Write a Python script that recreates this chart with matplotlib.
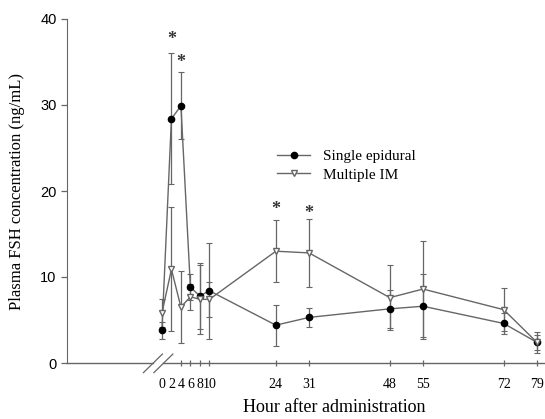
import matplotlib
matplotlib.use("Agg")
import matplotlib.pyplot as plt
from matplotlib.lines import Line2D

hours = [0, 2, 4, 6, 8, 10, 24, 31, 48, 55, 72, 79]
single_mean = [3.8, 28.4, 29.9, 8.8, 7.8, 8.4, 4.4, 5.3, 6.3, 6.6, 4.6, 2.4]
single_err = [1.0, 7.6, 3.9, 1.5, 3.8, 5.6, 2.4, 1.1, 2.2, 3.8, 1.2, 0.9]
multi_mean = [5.8, 10.9, 6.5, 7.7, 7.4, 7.4, 13.0, 12.8, 7.6, 8.6, 6.2, 2.4]
multi_err = [1.6, 7.2, 4.2, 1.5, 4.0, 2.0, 3.6, 4.0, 3.8, 5.6, 2.5, 1.2]
tick_hours = [0, 2, 4, 6, 8, 10, 24, 31, 48, 55, 72, 79]
tick_labels = ["0", "2", "4", "6", "8", "10", "24", "31", "48", "55", "72", "79"]
star_x = [2, 4, 24, 31]
star_y = [37.6, 34.9, 17.8, 17.4]

serif = "Liberation Serif"
sans = "Liberation Sans"
gray = "#666666"

fig = plt.figure(figsize=(5.45, 4.19), dpi=100)
ax = fig.add_axes([67/545, 56/419, 478/545, 344/419])

ax.errorbar(hours, single_mean, yerr=single_err, color=gray, lw=1.0,
            marker="o", ms=4.5, mfc="black", mec="black", ecolor=gray,
            elinewidth=0.9, capsize=2, capthick=0.8, zorder=3)
ax.errorbar(hours, multi_mean, yerr=multi_err, color=gray, lw=1.0,
            marker="v", ms=5, mfc="white", mec=gray, ecolor=gray,
            elinewidth=0.9, capsize=2, capthick=0.8, zorder=3)

for x, y in zip(star_x, star_y):
    ax.text(x, y, "*", ha="center", va="center", fontsize=13, fontweight="bold",
            family=serif, color="#333333")

ax.set_xlim(-20, 80.7)
ax.set_ylim(0, 40)
ax.set_yticks([0, 10, 20, 30, 40])
ax.set_yticklabels(["0", "10", "20", "30", "40"], family=sans, fontsize=10.5)
ax.set_xticks(tick_hours)
ax.set_xticklabels(tick_labels, family=serif, fontsize=10)
ax.tick_params(axis="both", direction="out", color=gray, length=4, width=0.9)
ax.tick_params(axis="x", length=5, pad=8, direction="inout")
for t in ax.xaxis.get_major_ticks()[:2]:
    t.tick1line.set_visible(False)

for s in ["top", "right"]:
    ax.spines[s].set_visible(False)
ax.spines["left"].set_color(gray)
ax.spines["bottom"].set_visible(False)

tr = ax.get_xaxis_transform()
ax.add_line(Line2D([-20, -1.9], [0, 0], transform=tr, color=gray, lw=1.0, clip_on=False))
ax.add_line(Line2D([0.3, 80.7], [0, 0], transform=tr, color=gray, lw=1.0, clip_on=False))
for xc in [-1.9, 0.3]:
    ax.add_line(Line2D([xc - 2.0, xc + 2.0], [-0.028, 0.026], transform=tr,
                       color=gray, lw=0.9, clip_on=False))

ax.set_ylabel("Plasma FSH concentration (ng/mL)", family=serif, fontsize=12)
ax.yaxis.set_label_coords(-0.088, 0.5)
ax.set_xlabel("Hour after administration", family=serif, fontsize=13)
ax.xaxis.set_label_coords(0.56, -0.105)

handles = [
    Line2D([], [], color=gray, lw=1.0, marker="o", ms=4.5, mfc="black", mec="black"),
    Line2D([], [], color=gray, lw=1.0, marker="v", ms=5, mfc="white", mec=gray),
]
ax.legend(handles, ["Single epidural", "Multiple IM"], loc="upper left",
          bbox_to_anchor=(0.41, 0.66), frameon=False,
          prop={"family": serif, "size": 11}, handlelength=2.2,
          handletextpad=0.8, labelspacing=0.3)

fig.savefig("out.png", dpi=100)
